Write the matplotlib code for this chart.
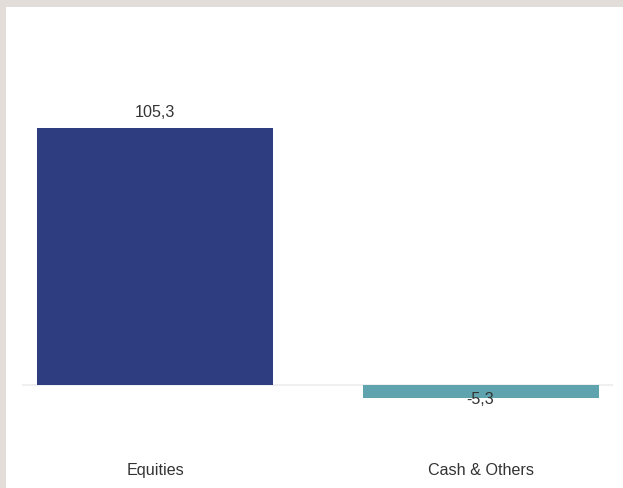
import matplotlib.pyplot as plt
from matplotlib.patches import Rectangle

categories = ["Equities", "Cash & Others"]
values = [105.3, -5.3]
value_labels = ["105,3", "-5,3"]
colors = ["#2e3d7f", "#5fa3ae"]

plt.rcParams['font.family'] = ['Liberation Sans', 'DejaVu Sans']

W, H = 623, 488
fig = plt.figure(figsize=(W / 100, H / 100), dpi=100)
fig.patch.set_facecolor('#e2ddd8')

# white panel inside the beige frame
fig.patches.append(Rectangle((6 / W, 0), 1 - 6 / W, 1 - 7 / H, transform=fig.transFigure,
                             facecolor='white', edgecolor='none', zorder=-10))

# axes box in pixels: x 22..613, y 30..455 (from top)
ax = fig.add_axes([22 / W, 1 - 455 / H, (613 - 22) / W, (455 - 30) / H])
ax.set_facecolor('none')
ax.set_zorder(1)

xpos = list(range(len(categories)))
bars = ax.bar(xpos, values, width=0.725, color=colors, zorder=2)

ax.set_xlim(-0.409, 1.407)
ax.set_ylim(-28.8, 145.5)
ax.axhline(0, color='#efefef', linewidth=1.5, zorder=1)

fs = 11.6
for bar, v, lab in zip(bars, values, value_labels):
    x = bar.get_x() + bar.get_width() / 2
    if v >= 0:
        ax.annotate(lab, (x, v), xytext=(0, 5.5), textcoords='offset points',
                    ha='center', va='bottom', fontsize=fs, color='#333333', zorder=3)
    else:
        ax.annotate(lab, (x, v), xytext=(0, -1.5), textcoords='offset points',
                    ha='center', va='center', fontsize=fs, color='#333333', zorder=3)

ax.set_xticks(xpos)
ax.set_xticklabels(categories, fontsize=fs, color='#333333')
ax.tick_params(axis='x', length=0, pad=6)
ax.set_yticks([])
for s in ax.spines.values():
    s.set_visible(False)

fig.savefig('out.png', dpi=100, facecolor=fig.get_facecolor())
